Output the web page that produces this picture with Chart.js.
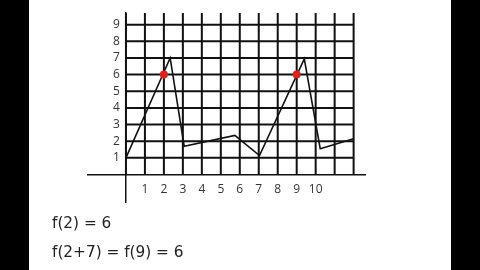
<!DOCTYPE html>
<html>
<head>
<meta charset="utf-8">
<script src="https://cdn.jsdelivr.net/npm/chart.js@4.4.1/dist/chart.umd.min.js"></script>
<style>
  html, body { margin: 0; padding: 0; }
  body { width: 480px; height: 270px; background: #000; position: relative; overflow: hidden; }
  .page { position: absolute; left: 29px; top: 0; width: 422px; height: 270px; background: #fff; }
  #chart { position: absolute; left: 0; top: 0; }
  .eq { position: absolute; left: 52px; font-family: "DejaVu Sans", sans-serif; font-size: 15.3px; color: #222; white-space: pre; }
</style>
</head>
<body>
<div class="page"></div>
<canvas id="chart" width="480" height="270"></canvas>
<div class="eq" style="top:214px">f(2) = 6</div>
<div class="eq" style="top:243px">f(2+7) = f(9) = 6</div>
<script>
// la fonction dessinée
const lineX = [0, 2.33, 3.07, 5.74, 7.04, 9.4, 10.24, 12];
const lineY = [1, 7, 1.7, 2.35, 1.14, 6.95, 1.55, 2.15];

// les deux points rouges
const dotX = [2, 9];
const dotY = [6, 6];

// graduations
const xTickValues = [1, 2, 3, 4, 5, 6, 7, 8, 9, 10];
const yTickValues = [1, 2, 3, 4, 5, 6, 7, 8, 9];
const gridXValues = [0, 1, 2, 3, 4, 5, 6, 7, 8, 9, 10, 11, 12];
const gridYValues = [1, 2, 3, 4, 5, 6, 7, 8, 9];

const X_MIN = -2, X_MAX = 12.6, Y_MIN = -1.65, Y_MAX = 9.7;

// quadrillage limité à la zone 0..12 / 0..9.7
const gridPlugin = {
    id: "paperGrid",
    beforeDatasetsDraw(chart) {
        const { ctx, scales: { x, y } } = chart;
        ctx.save();
        ctx.strokeStyle = "#111";
        ctx.lineWidth = 2;
        ctx.beginPath();
        gridXValues.forEach(v => {
            const px = x.getPixelForValue(v);
            ctx.moveTo(px, y.getPixelForValue(0));
            ctx.lineTo(px, y.getPixelForValue(Y_MAX));
        });
        gridYValues.forEach(v => {
            const py = y.getPixelForValue(v);
            ctx.moveTo(x.getPixelForValue(0), py);
            ctx.lineTo(x.getPixelForValue(12), py);
        });
        ctx.stroke();
        ctx.restore();
    }
};

const ctx = document.getElementById("chart").getContext("2d");
new Chart(ctx, {
    type: "scatter",
    data: {
        datasets: [
            {
                data: dotX.map((v, i) => ({ x: v, y: dotY[i] })),
                showLine: false,
                pointRadius: 4,
                pointBackgroundColor: "#e0201c",
                pointBorderWidth: 0
            },
            {
                data: lineX.map((v, i) => ({ x: v, y: lineY[i] })),
                showLine: true,
                borderColor: "#111",
                borderWidth: 1.6,
                pointRadius: 0,
                tension: 0
            }
        ]
    },
    options: {
        responsive: false,
        animation: false,
        layout: { padding: { left: 88, right: 115, top: 13, bottom: 68 } },
        plugins: { legend: { display: false }, tooltip: { enabled: false } },
        scales: {
            x: {
                type: "linear",
                min: X_MIN, max: X_MAX,
                position: { y: 0 },
                afterBuildTicks: s => { s.ticks = xTickValues.map(v => ({ value: v })); },
                grid: { display: false, drawTicks: false },
                border: { display: true, color: "#111", width: 1.5 },
                ticks: { padding: 8, color: "#333", font: { family: "Open Sans", size: 12 } }
            },
            y: {
                type: "linear",
                min: Y_MIN, max: Y_MAX,
                position: { x: 0 },
                afterBuildTicks: s => { s.ticks = yTickValues.map(v => ({ value: v })); },
                grid: { display: false, drawTicks: false },
                border: { display: true, color: "#111", width: 1.5 },
                // l'axe centré ignore le padding : on décale avec un espace
                ticks: { color: "#333", font: { family: "Open Sans", size: 12 }, callback: v => v + "\u2002" }
            }
        }
    },
    plugins: [gridPlugin]
});
</script>
</body>
</html>
